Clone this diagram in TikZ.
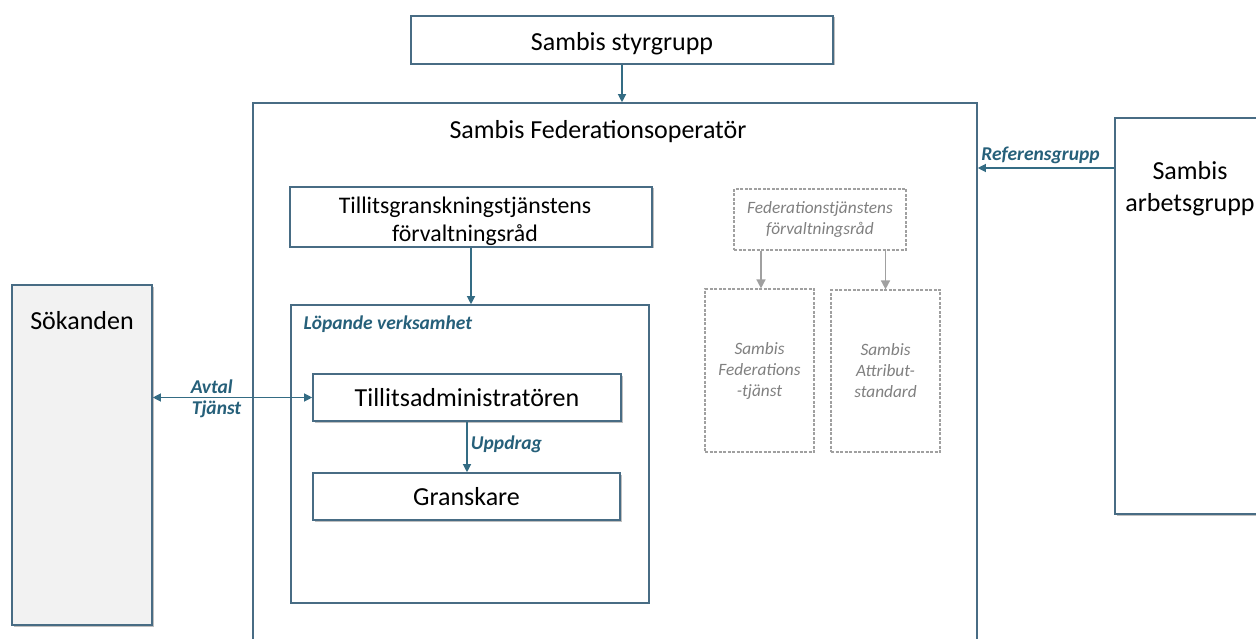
\documentclass[tikz,border=0pt]{standalone}
\usepackage{fontspec}
\setmainfont{Carlito}
\usetikzlibrary{arrows.meta,shadows}
\definecolor{bordercol}{RGB}{72,108,132}
\definecolor{arrcol}{RGB}{52,108,132}
\definecolor{lblcol}{RGB}{38,96,122}
\definecolor{dashcol}{RGB}{160,160,160}
\definecolor{dashtxt}{RGB}{128,128,128}
\definecolor{sokfill}{RGB}{242,242,242}
\tikzset{
  box/.style={draw=bordercol, line width=1.6pt, fill=white, rectangle, inner sep=0pt},
  shadowed/.style={drop shadow={shadow xshift=1.5pt, shadow yshift=-1.5pt, opacity=0.25, fill=black}},
  dbox/.style={draw=dashcol, line width=1.2pt, dash pattern=on 3pt off 1.5pt, fill=white, rectangle, inner sep=0pt, text=dashtxt, font=\fontsize{17.3}{21}\selectfont\itshape, align=center},
  big/.style={font=\fontsize{26}{32}\selectfont},
  mid/.style={font=\fontsize{23.8}{28}\selectfont, align=center},
  lbl/.style={text=lblcol, font=\fontsize{19.5}{23}\selectfont\itshape\bfseries},
  arr/.style={draw=arrcol, line width=1.2pt, -{Triangle[length=8pt,width=8pt]}},
  darr/.style={draw=arrcol, line width=1.2pt, {Triangle[length=8pt,width=8pt]}-{Triangle[length=8pt,width=8pt]}},
  garr/.style={draw=dashcol, line width=1.6pt, -{Triangle[length=9pt,width=9pt]}},
}
\begin{document}
\begin{tikzpicture}[x=1pt,y=-1pt]
\clip (0,0) rectangle (1256,639);
\fill[white] (0,0) rectangle (1256,639);

% outer operator box
\node[box, minimum width=724pt, minimum height=557pt] (fedop) at (615,381.5) {};
\node[big, anchor=center] (fedtitle) at (598,132) {Sambis Federationsoperatör};

% top
\node[box, shadowed, big, text height=22pt, text depth=0pt, minimum width=422pt, minimum height=48pt] (sty) at (622,40) {Sambis styrgrupp};

% right work group
\node[box, shadowed, minimum width=175pt, minimum height=396pt] (arb) at (1202.5,316) {};
\node[big, align=center] (arbtxt) at (1190,189) {Sambis\\arbetsgrupp};

% left applicant
\node[box, shadowed, fill=sokfill, minimum width=140pt, minimum height=340pt] (sok) at (82,455) {};
\node[big] (soktxt) at (82,321) {Sökanden};

% inner left column
\node[box, shadowed, minimum width=362pt, minimum height=60pt] (tg) at (471,217) {};
\node[mid] (tgtxt) at (465,221) {Tillitsgranskningstjänstens\\förvaltningsråd};
\node[box, minimum width=358pt, minimum height=298pt] (lop) at (470,454) {};
\node[lbl, anchor=west] (loptxt) at (300,324) {Löpande verksamhet};
\node[box, shadowed, big, minimum width=308pt, minimum height=47pt] (ta) at (467,397.5) {Tillitsadministratören};
\node[box, shadowed, big, minimum width=307pt, minimum height=47pt] (gr) at (466.5,496.5) {Granskare};

% dashed federation service group
\node[dbox, minimum width=172pt, minimum height=61pt] (ftf) at (820,219.5) {Federationstjänstens\\förvaltningsråd};
\node[dbox, minimum width=109pt, minimum height=163pt] (fs) at (759.5,370.5) {Sambis\\Federations\\-tjänst};
\node[dbox, minimum width=109pt, minimum height=162pt] (as) at (885.5,371) {Sambis\\Attribut-\\standard};

% connectors
\coordinate (refy) at (0,168);
\draw[arr] (sty.south) -- (sty.south |- fedop.north);
\draw[arr] (arb.west |- refy) -- node[lbl, above, pos=0.54] {Referensgrupp} (fedop.east |- refy);
\draw[arr] (tg.south) -- (tg.south |- lop.north);
\draw[arr] (ta.south) -- node[lbl, right, pos=0.45] {Uppdrag} (ta.south |- gr.north);
\draw[darr] (sok.east |- ta.west) -- node[lbl, above, pos=0.37, yshift=-0.5pt] {Avtal} node[lbl, below, pos=0.4, yshift=0.5pt] {Tjänst} (ta.west);
\draw[garr] ([xshift=1.5pt]fs.north |- ftf.south) -- ([xshift=1.5pt]fs.north);
\draw[garr] (as.north |- ftf.south) -- (as.north);
\end{tikzpicture}
\end{document}
